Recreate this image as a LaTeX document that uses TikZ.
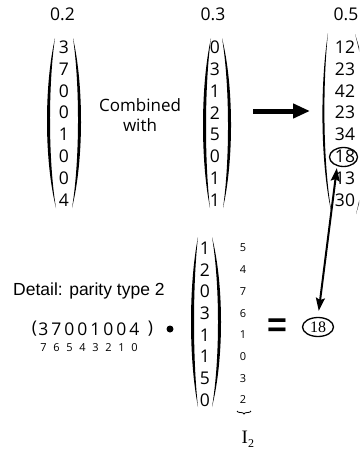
\documentclass[tikz,border=0pt]{standalone}
\usepackage{fontspec}
\newfontfamily\osans{Open Sans}
\newfontfamily\lsans{Liberation Sans}
\newfontfamily\lserif{Liberation Serif}
\usetikzlibrary{arrows.meta,shapes.geometric,decorations.pathreplacing}
% #1 xtop, #2 ytop, #3 xbot, #4 ybot, #5 outer x at middle, #6 inner x at middle
\newcommand\drawparen[6]{%
  \pgfmathsetmacro\pOcx{(#5-0.125*(#1+#3))/0.75}%
  \pgfmathsetmacro\pIcx{(#6-0.125*(#1+#3))/0.75}%
  \pgfmathsetmacro\pYaa{#2+(#4-#2)*0.28}%
  \pgfmathsetmacro\pYbb{#4-(#4-#2)*0.28}%
  \fill (#1,#2) .. controls (\pOcx,\pYaa) and (\pOcx,\pYbb) .. (#3,#4)
        .. controls (\pIcx,\pYbb) and (\pIcx,\pYaa) .. (#1,#2) -- cycle;}
\begin{document}
\begin{tikzpicture}[x=1pt,y=-1pt,
  ent/.style={font=\osans\fontsize{17.5}{17.5}\selectfont, inner sep=0pt},
  idx/.style={font=\osans\fontsize{11}{11}\selectfont, inner sep=0pt},
  ring/.style={ellipse, draw, line width=1.3pt, inner sep=0pt, minimum height=19pt},
  bigarrow/.style={line width=5pt, -{Triangle[length=17pt,width=14pt]}},
  linkarrow/.style={line width=2pt, {Stealth[length=13pt,width=9pt,inset=2pt]}-{Stealth[length=13pt,width=9pt,inset=2pt]}}]
\clip (0,0) rectangle (359,450);
\fill[white] (0,0) rectangle (359,450);
% column labels
\node[ent] (l1) at (62.5,14) {0.2};
\node[ent] (l2) at (213,14) {0.3};
\node[ent] (l3) at (346,14) {0.5};
% matrix 1
\foreach \v [count=\i from 0] in {3,7,0,0,1,0,0,4}
  \node[ent] (a\i) at (64,{47+21.9*\i}) {\v};
\drawparen{55}{38}{56}{208}{47}{50}
\drawparen{73}{38}{72}{208}{81}{78}
% combined with
\node[align=center, font=\osans\fontsize{17}{20}\selectfont, inner sep=0pt] (comb) at (140,115) {Combined\\with};
% matrix 2
\foreach \v [count=\i from 0] in {0,3,1,2,5,0,1,1}
  \node[ent] (b\i) at (215,{47+21.9*\i}) {\v};
\drawparen{211}{38}{210}{208}{203}{206}
\drawparen{222}{38}{223}{208}{231}{228}
% arrow
\coordinate (arrS) at (253,111);
\coordinate (arrE) at (310,111);
\draw[bigarrow] (arrS) -- (arrE);
% matrix 3
\foreach \v [count=\i from 0] in {12,23,42,23,34,18,13,30}
  \node[ent] (c\i) at (345,{47+21.9*\i}) {\v};
\drawparen{328}{33}{332}{215}{322.5}{324.5}
\drawparen{355}{34}{356}{214}{368}{366}
\node[ring, minimum width=28pt] (e18a) at (343.5,157) {};
% detail
\node[anchor=base west, font=\lsans\fontsize{17.5}{17.5}\selectfont, inner sep=0pt] (det) at (13,295) {Detail: parity type 2};
\node[ent] (rl) at (34.5,329) {(};
\node[ent] (rr) at (150.5,329) {)};
\foreach \v [count=\i from 0] in {3,7,0,0,1,0,0,4}
  \node[ent] (r\i) at ({43.5+13*\i},329) {\v};
\foreach \v [count=\i from 0] in {7,6,5,4,3,2,1,0}
  \node[idx] (ri\i) at ({43.5+13*\i},348) {\v};
\node[circle, fill, inner sep=0pt, minimum size=7pt] (dot) at (170,329) {};
% matrix 4
\foreach \v [count=\i from 0] in {1,2,0,3,1,1,5,0}
  \node[ent] (d\i) at (205,{248+21.7*\i}) {\v};
\drawparen{198}{237}{198}{407}{191}{194}
\drawparen{212}{237}{212}{407}{221}{218}
\foreach \v [count=\i from 0] in {5,4,7,6,1,0,3,2}
  \node[idx] (di\i) at (243,{248+21.7*\i}) {\v};
\coordinate (brL) at (237,411);
\coordinate (brR) at (251,411);
\draw[decorate, decoration={brace, mirror, amplitude=3pt}, line width=0.8pt] (brL) -- (brR);
\node[anchor=base west, font=\lserif\fontsize{19}{19}\selectfont, inner sep=0pt] (i2) at (241.5,443) {I\raisebox{-4pt}{\fontsize{12}{12}\selectfont 2}};
% equals and result
\node[font=\lsans\bfseries\fontsize{34}{34}\selectfont, inner sep=0pt] (eq) at (277,328) {=};
\node[ring, minimum width=31pt, font=\lserif\fontsize{16}{16}\selectfont] (e18b) at (318,327) {18};
% link
\draw[linkarrow, shorten <=2pt, shorten >=6pt] (e18a.235) -- (e18b.north);
\end{tikzpicture}
\end{document}
